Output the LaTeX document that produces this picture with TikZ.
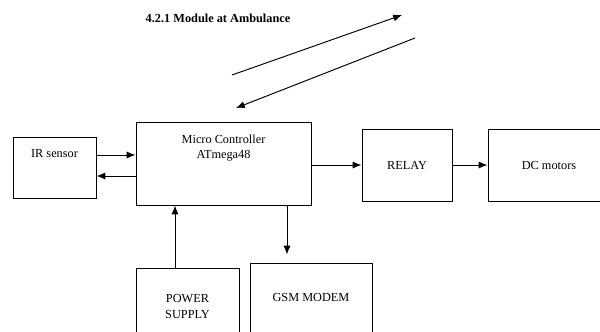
\documentclass[tikz,border=0pt]{standalone}
\usepackage{fontspec}
\setmainfont{Liberation Serif}
\usetikzlibrary{arrows.meta}

\begin{document}
\begin{tikzpicture}
\clip (0,0) rectangle (12,-6.64);

\node (title) at (4.36, -0.37) [font=\fontsize{7}{8}\selectfont\bfseries] {4.2.1 Module at Ambulance};

\begin{scope}[every node/.style={rectangle,draw=black,line width=0.55pt,font=\fontsize{7}{8.6}\selectfont}]
    \node (IR) at (1.09, -3.35) [minimum width=1.66cm, minimum height=1.22cm,
        label={[anchor=north,yshift=-0.14cm,draw=none]north:IR sensor}] {};
    \node (MC) at (4.47, -3.27) [minimum width=3.5cm, minimum height=1.66cm,
        label={[anchor=north,yshift=-0.14cm,draw=none,align=center]north:Micro Controller\\ATmega48}] {};
    \node (RELAY) at (8.14, -3.30) [minimum width=1.8cm, minimum height=1.44cm] {RELAY};
    \node (DC) at (10.98, -3.30) [minimum width=2.44cm, minimum height=1.44cm] {DC motors};
    \node (PS) at (3.75, -6.13) [minimum width=2.06cm, minimum height=1.54cm, align=center] {POWER\\SUPPLY};
    \node (GSM) at (6.22, -6.08) [minimum width=2.44cm, minimum height=1.64cm,
        label={[anchor=north,yshift=-0.49cm,draw=none]north:GSM MODEM}] {};
\end{scope}

\coordinate (txA) at (4.64, -1.50);
\coordinate (txB) at (8.04, -0.30);
\coordinate (rxA) at (8.30, -0.76);
\coordinate (rxB) at (4.72, -2.16);

\begin{scope}[>={Latex[length=5pt,width=4pt]}, line width=0.55pt]
    \draw [->] ([yshift=0.25cm]IR.east) -- ([yshift=0.25cm]IR.east -| MC.west);
    \draw [->] ([yshift=-0.17cm]IR.east -| MC.west) -- ([yshift=-0.17cm]IR.east);
    \draw [->] (MC.east |- RELAY.west) -- (RELAY.west);
    \draw [->] (RELAY) -- (DC);
    \draw [->] ([xshift=-0.25cm]PS.north) -- ([xshift=-0.25cm]PS.north |- MC.south);
    \draw [->, shorten >=0.16cm] ([xshift=-0.48cm]GSM.north |- MC.south) -- ([xshift=-0.48cm]GSM.north);
    \draw [->] (txA) -- (txB);
    \draw [->] (rxA) -- (rxB);
\end{scope}
\end{tikzpicture}
\end{document}
